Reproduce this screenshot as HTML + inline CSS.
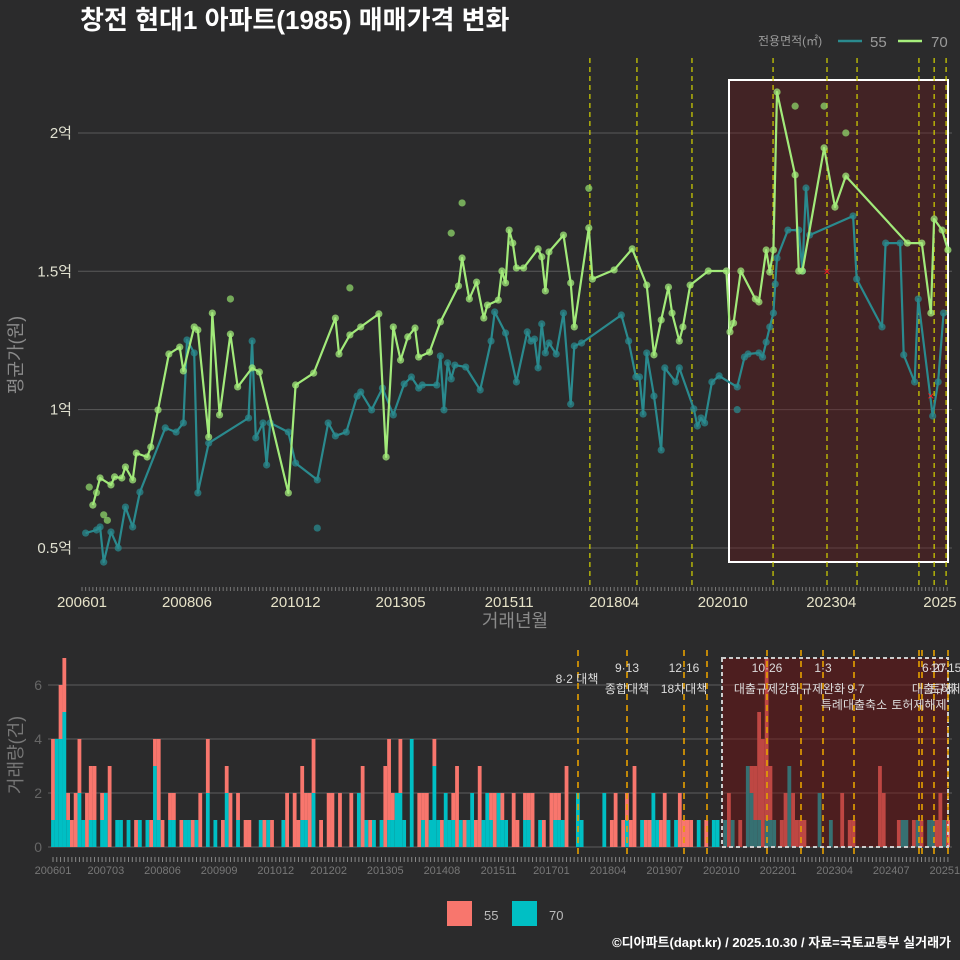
<!DOCTYPE html>
<html><head><meta charset="utf-8"><style>
html,body{margin:0;padding:0;background:#2b2b2c;}
svg{display:block;font-family:"Liberation Sans","Noto Sans CJK KR",sans-serif;}
</style></head><body>
<svg id="chart" width="960" height="960" viewBox="0 0 960 960" xmlns="http://www.w3.org/2000/svg">
<rect x="0" y="0" width="960" height="960" fill="#2b2b2c"/>
<text x="80" y="29" font-size="26" font-weight="bold" fill="#ffffff">창전 현대1 아파트(1985) 매매가격 변화</text>
<g>
<text x="758" y="45" font-size="12" fill="#9a9a9a">전용면적(㎡)</text>
<line x1="838" y1="41" x2="862" y2="41" stroke="#2a8a8e" stroke-width="2.5"/>
<text x="870" y="47" font-size="15" fill="#9a9a9a">55</text>
<line x1="898" y1="41" x2="922" y2="41" stroke="#a6ee7c" stroke-width="2.5"/>
<text x="931" y="47" font-size="15" fill="#9a9a9a">70</text>
</g>
<text transform="translate(22,355) rotate(-90)" text-anchor="middle" font-size="18" fill="#8a8a8a">평균가(원)</text>
<text x="515" y="627" text-anchor="middle" font-size="18" fill="#8a8a8a">거래년월</text>
<text transform="translate(22,755) rotate(-90)" text-anchor="middle" font-size="18" fill="#777">거래량(건)</text>
<g id="topPlot"></g>
<g id="botPlot"></g>
<g>
<rect x="447" y="901" width="25" height="25" fill="#f8766d"/>
<text x="484" y="920" font-size="13" fill="#bbbbbb">55</text>
<rect x="512" y="901" width="25" height="25" fill="#00bfc4"/>
<text x="549" y="920" font-size="13" fill="#bbbbbb">70</text>
</g>
<text x="951" y="947" text-anchor="end" font-size="13" font-weight="bold" fill="#ffffff">©디아파트(dapt.kr) / 2025.10.30 / 자료=국토교통부 실거래가</text>
</svg>
<script>
const m70 = [3,5,8,9,11,12,14,15,18,19,21,24,27,28,31,32,35,36,38,41,43,47,49,57,59,64,70,71,74,77,82,84,86,88,90,92,93,96,99,104,105,107,109,111,112,115,116,117,118,119,120,122,126,127,128,129,133,135,136,140,141,147,152,156,158,160,162,163,165,166,168,173,178,179,180,182,186,187,189,190,191,192,197,198,199,205,208,211,228,232,234.5,235.4,237.6,239.2];
const v70 = [0.655,0.753,0.728,0.757,0.753,0.793,0.746,0.843,0.829,0.865,0.999,1.201,1.226,1.140,1.299,1.288,0.901,1.349,0.981,1.273,1.082,1.151,1.136,0.699,1.089,1.132,1.331,1.201,1.270,1.299,1.346,0.829,1.299,1.179,1.263,1.295,1.190,1.208,1.317,1.447,1.548,1.400,1.461,1.331,1.378,1.396,1.501,1.458,1.649,1.602,1.512,1.512,1.581,1.552,1.429,1.570,1.631,1.458,1.299,1.657,1.472,1.505,1.581,1.450,1.198,1.324,1.443,1.349,1.248,1.299,1.450,1.501,1.501,1.281,1.313,1.501,1.400,1.389,1.577,1.497,1.577,2.148,1.848,1.501,1.501,1.946,1.732,1.844,1.602,1.602,1.349,1.689,1.649,1.577];
const m55 = [1,4,5,6,8,10,12,14,16,23,26,28,29,31,32,35,46,47,48,50,51,52,57,59,65,68,70,73,76,77,80,83,86,89,91,93,94,98,99,100,101,102,103,106,110,113,114,117,120,123,124,125,126,127,128,129,131,133,135,136,138,149,151,153,154,155,156,158,160,161,164,165,169,170,171,172,174,176,181,183,184,187,188,189,190,191,191.5,192,195,198,199,200,201,213,214,221,222,226,227,230,231,235,236.5,238];
const v55 = [0.554,0.565,0.576,0.449,0.558,0.500,0.648,0.576,0.702,0.934,0.919,0.952,1.252,1.205,0.699,0.879,0.970,1.248,0.898,0.952,0.800,0.952,0.919,0.807,0.746,0.952,0.905,0.919,1.049,1.064,0.999,1.078,0.981,1.093,1.118,1.078,1.089,1.089,1.194,0.999,1.169,1.111,1.161,1.154,1.071,1.248,1.353,1.277,1.100,1.281,1.248,1.255,1.151,1.310,1.205,1.241,1.201,1.349,1.020,1.230,1.241,1.342,1.248,1.118,1.118,0.984,1.205,1.049,0.854,1.151,1.100,1.151,1.003,0.941,0.970,0.952,1.100,1.122,1.082,1.190,1.201,1.205,1.190,1.244,1.299,1.349,1.454,1.548,1.649,1.649,1.501,1.801,1.631,1.700,1.472,1.299,1.602,1.602,1.198,1.100,1.400,0.977,1.100,1.349];
const extra70m = [2,4,6,7,41,74,102,105,140,197,205,211];
const extra70v = [0.72,0.70,0.62,0.60,1.40,1.44,1.638,1.747,1.80,2.097,2.097,2.0];
const extra55m = [65,181];
const extra55v = [0.572,1.0];
const markM = [205.8,234.5];
const markV = [1.5,1.05];
const yTicks = [0.5,1,1.5,2];
const yTickLabels = ["0.5억","1억","1.5억","2억"];
const xTickM = [0,29,59,88,118,147,177,207,237];
const xTickLabels = ["200601","200806","201012","201305","201511","201804","202010","202304","2025"];
const policyTopM = [140.3,153.3,168.5,190.9,205.8,214.1,231.2,235.4,238.7];
const barM =  [0,1,2,3,4,5,6,7,8,9,10,11,13,14,15,17,18,20,22,23,25,26,27,28,29,31,32,34,35,36,37,38,39,41,43,45,46,47,49,51,52,55,56,57,58,61,62,64,65,66,67,68,69,71,73,74,76,79,81,82,83,84,85,87,88,89,90,91,92,93,95,97,98,99,100,101,102,103,104,105,106,107,108,109,110,111,112,113,114,115,116,117,118,119,120,122,123,125,126,127,129,130,132,133,134,135,136,139,140,146,148,149,151,152,153,154,156,157,158,159,160,161,162,163,165,166,167,168,169,171,173,175,176,178,179,180,182,184,185,186,187,188,189,190,191,193,194,195,196,197,198,199,203,206,209,211,212,219,220,224,225,226,228,229,230,232,233,234,235,236,237];
const bar70 = [1,4,4,5,1,0,0,2,1,0,1,1,1,2,0,1,1,1,0,1,1,0,3,1,0,1,1,0,1,1,0,1,0,2,1,0,2,0,1,0,0,1,0,1,0,1,0,0,0,1,1,0,2,0,0,0,0,0,2,0,1,0,1,1,0,1,1,2,2,1,4,0,1,0,1,3,1,0,2,1,1,0,1,0,1,2,0,0,1,2,1,0,2,1,1,0,0,1,1,0,1,0,0,1,1,1,0,2,1,2,0,0,0,1,0,0,1,0,0,2,1,0,0,1,1,0,0,0,0,1,0,1,1,1,0,1,0,3,2,1,1,0,1,1,1,0,0,3,0,0,0,0,2,1,0,0,0,0,0,0,1,1,0,1,0,1,1,0,0,1,0];
const bar55 = [3,0,2,2,1,1,2,2,0,2,2,2,1,0,3,0,0,0,1,0,0,1,1,3,1,1,1,1,0,0,1,0,2,2,0,1,1,2,1,1,1,0,1,0,1,0,2,2,1,2,1,2,2,1,2,2,2,2,0,3,0,1,0,0,3,3,1,0,2,0,0,2,1,2,0,1,0,1,0,0,1,3,0,1,0,0,1,3,0,0,1,2,0,1,0,2,1,1,1,2,0,1,2,1,1,0,3,0,0,0,1,2,1,1,1,3,0,1,1,0,0,1,2,0,0,2,1,1,1,0,1,0,0,0,2,0,1,0,1,2,4,4,6,2,0,1,2,0,2,1,1,1,0,0,2,1,1,3,2,1,0,0,1,0,1,0,0,1,2,0,1];
const barYTicks = [0,2,4,6];
const barXTickM = [0,14,29,44,59,73,88,103,118,132,147,162,177,192,207,222,237];
const barXTickLabels = ["200601","200703","200806","200909","201012","201202","201305","201408","201511","201701","201804","201907","202010","202201","202304","202407","202510"];
const policyBotX = [578,627,684,707,767,801,823,854,919,922,934,948];
const noteText = ["8·2 대책","9·13","종합대책","12·16","18차대책","10·26","대출규제강화","1·3","규제완화","9·7","특례대출축소","토허제해제","6·27","10·15","대출규제","토허제"];
const noteX = [577,627,627,684,684,767,767,823,823,856,854,919,934,946,934,946];
const noteY = [683,672,693,672,693,672,693,672,693,693,709,709,672,672,693,693];

const NS="http://www.w3.org/2000/svg";
function mk(tag,attrs,parent){const e=document.createElementNS(NS,tag);for(const k in attrs)e.setAttribute(k,attrs[k]);parent.appendChild(e);return e;}
const tx = m => 82 + m*3.62;
const ty = v => 548 - (v-0.5)*276.7;
const bx = m => 53 + m*3.776;
const by = c => 847 - c*27;

const topG = document.getElementById('topPlot');
yTicks.forEach((t,i)=>{
  const g = mk('line',{x1:78,x2:952,y1:ty(t),y2:ty(t),stroke:'#5a5a5a','stroke-width':1},topG);
  
  
  const l = mk('text',{x:72,y:ty(t)+5,'text-anchor':'end','font-size':15,fill:'#e0e0d0'},topG);
  l.textContent = yTickLabels[i];
  
  
});
for(let m=0;m<=239;m++){
  const t = mk('line',{x1:tx(m),x2:tx(m),y1:587,y2:591,stroke:'#777','stroke-width':1},topG);
  
  
}
xTickM.forEach((m,i)=>{
  const l = mk('text',{x:tx(m),y:607,'text-anchor':'middle','font-size':15,fill:'#e6e2c8'},topG);
  l.textContent = xTickLabels[i];
  
  
});
const hb = mk('rect',{x:729,y:80,width:219,height:482,fill:'rgba(110,20,25,0.35)',stroke:'#ffffff','stroke-width':2},topG);


policyTopM.forEach(m=>{
  const p = mk('line',{x1:tx(m),x2:tx(m),y1:58,y2:588,stroke:'#d4d400','stroke-width':1.2,'stroke-dasharray':'5,4'},topG);
  
  
});
function series(ms,vs,color,name){
  ms.forEach((m,i)=>{
    const c = mk('circle',{cx:tx(m),cy:ty(vs[i]),r:3.6,fill:color,'fill-opacity':0.75},topG);
    
    
  });
  const d = ms.map((m,i)=>(i?'L':'M')+tx(m).toFixed(1)+','+ty(vs[i]).toFixed(1)).join('');
  const p = mk('path',{d:d,fill:'none',stroke:color,'stroke-width':2.2,'stroke-linejoin':'round'},topG);
  
  
}
extra70m.forEach((m,i)=>{
  const c = mk('circle',{cx:tx(m),cy:ty(extra70v[i]),r:3.6,fill:'#8fd66a','fill-opacity':0.75},topG);
  
  
});
extra55m.forEach((m,i)=>{
  const c = mk('circle',{cx:tx(m),cy:ty(extra55v[i]),r:3.6,fill:'#2a8a8e','fill-opacity':0.75},topG);
  
  
});
series(m55,v55,'#2a8a8e','area-55');
series(m70,v70,'#a2ea7a','area-70');
markM.forEach((m,i)=>{
  const t = mk('text',{x:tx(m),y:ty(markV[i])+4,'text-anchor':'middle','font-size':12,fill:'#ff2020'},topG);
  t.textContent='×';
  
  
});

const botG = document.getElementById('botPlot');
barYTicks.forEach(t=>{
  const g = mk('line',{x1:48,x2:952,y1:by(t),y2:by(t),stroke:'#5e5e5e','stroke-width':1},botG);
  
  
  const l = mk('text',{x:42,y:by(t)+5,'text-anchor':'end','font-size':14,fill:'#666'},botG);
  l.textContent = t;
  
  
});
barM.forEach((m,i)=>{
  const x = bx(m)-1.9;
  const a = bar70[i]||0, b = bar55[i]||0;
  if(a>0){
    const r = mk('rect',{x:x,y:by(a),width:3.8,height:a*27,fill:'#00bfc4'},botG);
    
    
  }
  if(b>0){
    const r = mk('rect',{x:x,y:by(a+b),width:3.8,height:b*27,fill:'#f8766d'},botG);
    
    
  }
});
for(let m=0;m<=237;m++){
  const t = mk('line',{x1:bx(m),x2:bx(m),y1:857,y2:862,stroke:'#888','stroke-width':1},botG);
  
  
}
barXTickM.forEach((m,i)=>{
  const l = mk('text',{x:bx(m),y:874,'text-anchor':'middle','font-size':11,fill:'#777'},botG);
  l.textContent = barXTickLabels[i];
  
  
});
const bb = mk('rect',{x:722,y:658,width:226,height:189,fill:'rgba(120,15,15,0.45)',stroke:'#cccccc','stroke-width':2,'stroke-dasharray':'4,3'},botG);


policyBotX.forEach(x=>{
  const p = mk('line',{x1:x,x2:x,y1:650,y2:857,stroke:'#e6a000','stroke-width':1.6,'stroke-dasharray':'6,5'},botG);
  
  
});
noteText.forEach((s,i)=>{
  const t = mk('text',{x:noteX[i],y:noteY[i],'text-anchor':'middle','font-size':12,fill:'#dddddd'},botG);
  t.textContent = s;
  
  
});
</script>
</body></html>
